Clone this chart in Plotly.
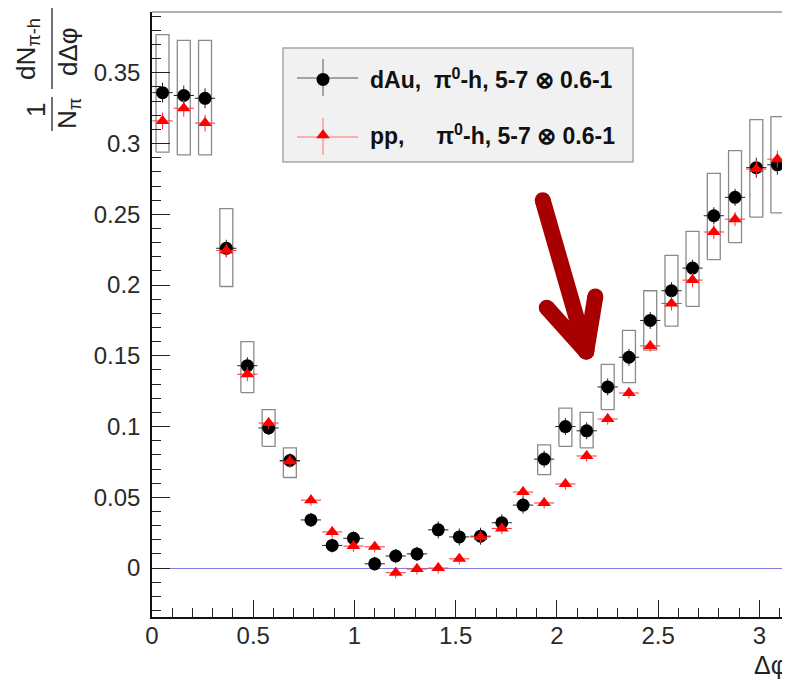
import math
import plotly.graph_objects as go

# ---------------- data ----------------
dphi = [0.052, 0.157, 0.262, 0.367, 0.471, 0.576, 0.681, 0.785, 0.890, 0.995,
        1.100, 1.204, 1.309, 1.414, 1.518, 1.623, 1.728, 1.833, 1.937, 2.042,
        2.147, 2.251, 2.356, 2.461, 2.566, 2.670, 2.775, 2.880, 2.985, 3.089]

dau = [0.336, 0.334, 0.332, 0.226, 0.143, 0.099, 0.076, 0.034, 0.016, 0.021,
       0.003, 0.0085, 0.010, 0.027, 0.022, 0.0225, 0.032, 0.0445, 0.077, 0.100,
       0.097, 0.128, 0.149, 0.175, 0.196, 0.212, 0.249, 0.262, 0.283, 0.285]
dau_stat = [0.007, 0.007, 0.007, 0.006, 0.006, 0.005, 0.005, 0.005, 0.005, 0.005,
            0.005, 0.005, 0.005, 0.006, 0.006, 0.006, 0.006, 0.006, 0.006, 0.006,
            0.006, 0.006, 0.006, 0.006, 0.006, 0.006, 0.006, 0.006, 0.007, 0.007]
dau_sys_hi = [0.377, 0.373, 0.373, 0.254, 0.160, 0.112, 0.085, None, None, None,
              None, None, None, None, None, None, None, None, 0.087, 0.113,
              0.110, 0.144, 0.168, 0.196, 0.221, 0.238, 0.279, 0.295, 0.317, 0.319]
dau_sys_lo = [0.294, 0.292, 0.292, 0.199, 0.124, 0.086, 0.064, None, None, None,
              None, None, None, None, None, None, None, None, 0.066, 0.086,
              0.085, 0.112, 0.131, 0.154, 0.171, 0.185, 0.218, 0.230, 0.248, 0.251]

pp = [0.316, 0.325, 0.3145, 0.2245, 0.137, 0.1025, 0.0755, 0.048, 0.0255, 0.0155,
      0.015, -0.0033, -0.0007, 0.0, 0.0065, 0.022, 0.028, 0.0537, 0.046, 0.0594,
      0.0792, 0.1053, 0.1237, 0.157, 0.187, 0.2035, 0.2375, 0.2466, 0.282, 0.289]
pp_stat = [0.006, 0.006, 0.006, 0.005, 0.005, 0.004, 0.004, 0.004, 0.004, 0.004,
           0.004, 0.004, 0.004, 0.004, 0.004, 0.004, 0.004, 0.004, 0.004, 0.004,
           0.004, 0.004, 0.004, 0.004, 0.005, 0.005, 0.005, 0.005, 0.006, 0.006]

x_ticks = [0, 0.5, 1, 1.5, 2, 2.5, 3]
y_ticks = [0, 0.05, 0.1, 0.15, 0.2, 0.25, 0.3, 0.35]

name_dau = "dAu,\u00a0\u00a0\u03c0<sup>0</sup>-h, 5-7 \u2297 0.6-1"
name_pp = "pp,\u00a0\u00a0\u00a0\u00a0\u00a0\u03c0<sup>0</sup>-h, 5-7 \u2297 0.6-1"

# annotation arrow (tail, tip, arm ends) in data coordinates
arrow_tail = (1.930, 0.260)
arrow_tip = (2.145, 0.153)
arrow_left = (1.950, 0.184)
arrow_right = (2.190, 0.192)

# ---------------- style ----------------
BOX_HW = 0.032
XERR = 0.05
FONT = "Liberation Sans, Arial, Helvetica, sans-serif"
OFF = 8                      # page body margin of the browser
W, H = 790 - OFF, 684 - OFF
ML, MR, MT, MB = 152 - OFF, 2, 12 - OFF, 67
PW, PH = W - ML - MR, H - MT - MB


def px(xp):  # page pixel x -> paper
    return (xp - OFF - ML) / PW


def py(yp):  # page pixel y -> paper
    return (H - MB - (yp - OFF)) / PH


fig = go.Figure()

# systematic boxes
bx, by = [], []
for xv, hi, lo in zip(dphi, dau_sys_hi, dau_sys_lo):
    if hi is None:
        continue
    bx += [xv - BOX_HW, xv + BOX_HW, xv + BOX_HW, xv - BOX_HW, xv - BOX_HW, None]
    by += [lo, lo, hi, hi, lo, None]
fig.add_trace(go.Scatter(x=bx, y=by, mode="lines", line=dict(color="#8a8a8a", width=1.3),
                         showlegend=False, hoverinfo="skip"))

fig.add_trace(go.Scatter(
    x=dphi, y=dau, mode="markers", name=name_dau, legendgroup="a",
    marker=dict(symbol="circle", size=13, color="black"),
    error_y=dict(type="data", array=dau_stat, color="#222", thickness=1, width=0),
    error_x=dict(type="constant", value=XERR, color="#222", thickness=1, width=0),
))
fig.add_trace(go.Scatter(
    x=dphi, y=pp, mode="markers", name=name_pp, legendgroup="b",
    marker=dict(symbol="triangle-up", size=12, color="red"),
    error_y=dict(type="data", array=pp_stat, color="#ff3030", thickness=1, width=0),
    error_x=dict(type="constant", value=XERR, color="#ff3030", thickness=1, width=0),
))

# big dark-red arrow
ax_ = [arrow_tail[0], arrow_tip[0], None, arrow_left[0], arrow_tip[0], None, arrow_right[0], arrow_tip[0]]
ay_ = [arrow_tail[1], arrow_tip[1], None, arrow_left[1], arrow_tip[1], None, arrow_right[1], arrow_tip[1]]
fig.add_trace(go.Scatter(x=ax_, y=ay_, mode="lines+markers", line=dict(color="#a80000", width=16),
                         marker=dict(size=16, color="#a80000"), showlegend=False, hoverinfo="skip"))

shapes = []
# frame top/right in gray
shapes.append(dict(type="line", xref="paper", yref="paper", x0=0, x1=1, y0=1, y1=1,
                   line=dict(color="#b0b0b0", width=2)))
shapes.append(dict(type="line", xref="paper", yref="paper", x0=1, x1=1, y0=0, y1=1,
                   line=dict(color="#b0b0b0", width=2)))
# legend box
shapes.append(dict(type="rect", xref="paper", yref="paper", x0=px(283), x1=px(633), y0=py(162), y1=py(48),
                   fillcolor="#f1f1f1", line=dict(color="#a8a8a8", width=1.5), layer="below"))
# legend crosses
for (cx, cy, col) in [(323, 78, "#555"), (323, 137, "#ff7070")]:
    shapes.append(dict(type="line", xref="paper", yref="paper", x0=px(297), x1=px(358), y0=py(cy), y1=py(cy),
                       line=dict(color=col, width=1)))
    shapes.append(dict(type="line", xref="paper", yref="paper", x0=px(cx), x1=px(cx), y0=py(cy - 19), y1=py(cy + 18),
                       line=dict(color=col, width=1)))
# y-title fraction bars
shapes.append(dict(type="line", xref="paper", yref="paper", x0=px(52), x1=px(52), y0=py(131), y1=py(97),
                   line=dict(color="#444", width=1.5)))
shapes.append(dict(type="line", xref="paper", yref="paper", x0=px(52), x1=px(52), y0=py(89), y1=py(8),
                   line=dict(color="#444", width=1.5)))

annotations = []
tf = dict(family=FONT, size=26, color="#222")
for txt, xx, yy in [("1", 36, 110), ("N<sub>\u03c0</sub>", 68, 114),
                    ("dN<sub>\u03c0-h</sub>", 27, 49), ("d\u0394\u03c6", 68, 52)]:
    annotations.append(dict(text=txt, xref="paper", yref="paper", x=px(xx), y=py(yy), xanchor="center",
                            yanchor="middle", textangle=-90, showarrow=False, font=tf))
annotations.append(dict(text="\u0394\u03c6", xref="paper", yref="paper", x=px(770), y=py(665),
                        xanchor="center", yanchor="middle", showarrow=False,
                        font=dict(family=FONT, size=25, color="#222")))

fig.update_layout(
    width=W, height=H,
    margin=dict(l=ML, r=MR, t=MT, b=MB),
    paper_bgcolor="white", plot_bgcolor="white",
    showlegend=True,
    legend=dict(x=px(276), y=py(58), xanchor="left", yanchor="top", bgcolor="rgba(0,0,0,0)",
                borderwidth=0, traceorder="grouped", tracegroupgap=23, itemwidth=84,
                font=dict(family="Liberation Sans, Arial, sans-serif", size=23, color="#111", weight="bold")),
    shapes=shapes, annotations=annotations,
    xaxis=dict(range=[0, math.pi], tickvals=x_ticks, ticktext=[f"{v:g}" for v in x_ticks],
               showgrid=False, zeroline=False, showline=True, linecolor="#111", linewidth=1.5,
               ticks="inside", ticklen=17, tickwidth=1.3, tickcolor="#222", ticklabelstandoff=-4,
               minor=dict(dtick=0.1, tick0=0, ticks="inside", ticklen=9, tickwidth=1.2, tickcolor="#222"),
               tickfont=dict(family=FONT, size=24, color="#2a2a2a"), fixedrange=True),
    yaxis=dict(range=[-0.0346, 0.393], tickvals=y_ticks, ticktext=[f"{v:g}" for v in y_ticks],
               showgrid=False, zeroline=True, zerolinecolor="#8080e0", zerolinewidth=1,
               showline=True, linecolor="#111", linewidth=1.5,
               ticks="inside", ticklen=18, tickwidth=1.3, tickcolor="#222", ticklabelstandoff=5,
               minor=dict(dtick=0.01, tick0=0, ticks="inside", ticklen=9, tickwidth=1.2, tickcolor="#222"),
               tickfont=dict(family=FONT, size=24, color="#2a2a2a"), fixedrange=True),
)

fig.write_html("out.html")
